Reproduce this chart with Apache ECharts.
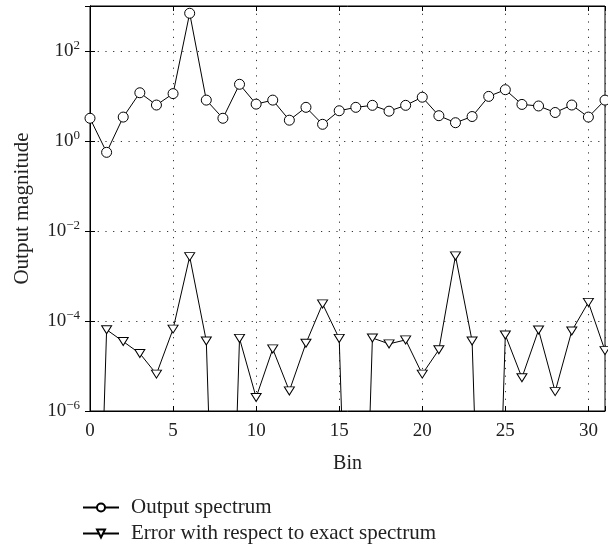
<!DOCTYPE html>
<html>
<head>
<meta charset="utf-8">
<script src="https://cdn.jsdelivr.net/npm/echarts@6/dist/echarts.min.js"></script>
<style>
  html, body { margin: 0; padding: 0; background: #fff; }
  #chart { width: 608px; height: 545px; }
</style>
</head>
<body>
<div id="chart"></div>
<script>
// bins 0..31
const bins = Array.from({ length: 32 }, (_, i) => i)

const outputSpectrum = [
  3.2, 0.56, 3.4, 11.8, 6.3, 11.3, 690, 8.1, 3.2, 18.2,
  6.6, 8.1, 2.9, 5.6, 2.35, 4.7, 5.6, 6.2, 4.6, 6.2,
  9.4, 3.65, 2.55, 3.5, 9.8, 13.8, 6.5, 6.0, 4.3, 6.3,
  3.4, 8.1
]

// near-zero bins (0, 8, 16, 24) fall far below the axis
const errorSpectrum = [
  1e-16, 6.4e-5, 3.5e-5, 1.9e-5, 6.6e-6, 6.6e-5, 2.7e-3, 3.6e-5, 1e-16, 4.1e-5,
  2.0e-6, 2.4e-5, 2.8e-6, 3.2e-5, 2.4e-4, 4.1e-5, 1e-16, 4.2e-5, 3.1e-5, 3.8e-5,
  6.6e-6, 2.3e-5, 2.8e-3, 3.6e-5, 1e-16, 4.9e-5, 5.5e-6, 6.3e-5, 2.7e-6, 6.0e-5,
  2.6e-4, 2.2e-5
]

const xTicks = [0, 5, 10, 15, 20, 25, 30]
const yTickExps = [-6, -4, -2, 0, 2]

const font = 'Liberation Serif'
const chart = echarts.init(document.getElementById('chart'))

const supLabel = v => {
  const e = Math.round(Math.log10(v))
  if (!yTickExps.includes(e)) return ''
  return '{b|10}{s|' + (e < 0 ? '\u2212' + (-e) : e) + '}'
}

const dotted = { color: '#333', width: 1, type: [1.2, 6.5] }

chart.setOption({
  animation: false,
  textStyle: { fontFamily: font },
  grid: { left: 90, right: 1, top: 6, bottom: 134, show: true, borderColor: '#000', borderWidth: 1 },
  legend: {
    orient: 'vertical',
    left: 77,
    top: 492,
    height: 80,
    itemGap: 5,
    itemWidth: 36,
    itemHeight: 10,
    textStyle: { fontFamily: font, fontSize: 21, lineHeight: 21, color: '#222', padding: [0, 0, 0, 7] },
    data: ['Output spectrum', 'Error with respect to exact spectrum']
  },
  xAxis: [
    {
      type: 'value', min: 0, max: 31, interval: 5,
      name: 'Bin', nameLocation: 'middle', nameGap: 43,
      nameTextStyle: { fontFamily: font, fontSize: 20, color: '#222' },
      axisLine: { lineStyle: { color: '#000' } },
      axisTick: { inside: true, length: 5, lineStyle: { color: '#000' } },
      axisLabel: {
        margin: 11, fontSize: 19, color: '#222', fontFamily: font,
        formatter: v => (xTicks.includes(v) ? String(v) : '')
      },
      splitLine: { show: true, lineStyle: dotted }
    },
    {
      type: 'value', min: 0, max: 31, interval: 5, position: 'top',
      axisLine: { lineStyle: { color: '#000' } },
      axisTick: { inside: true, length: 5, lineStyle: { color: '#000' } },
      axisLabel: { show: false },
      splitLine: { show: false }
    }
  ],
  yAxis: [
    {
      type: 'log', logBase: 10, min: 1e-6, max: 1e3, interval: 2,
      name: 'Output magnitude', nameLocation: 'middle', nameGap: 57,
      nameTextStyle: { fontFamily: font, fontSize: 21, color: '#222' },
      axisLine: { lineStyle: { color: '#000' } },
      axisTick: { inside: true, length: 5, lineStyle: { color: '#000' } },
      axisLabel: {
        margin: 10, color: '#222', formatter: supLabel,
        rich: {
          b: { fontFamily: font, fontSize: 19, color: '#222' },
          s: { fontFamily: font, fontSize: 13, color: '#222', padding: [0, 0, 10, 0] }
        }
      },
      minorTick: { show: false },
      splitLine: { show: true, lineStyle: dotted }
    },
    {
      type: 'log', logBase: 10, min: 1e-6, max: 1e3, interval: 2, position: 'right',
      axisLine: { lineStyle: { color: '#000' } },
      axisTick: { inside: true, length: 5, lineStyle: { color: '#000' } },
      axisLabel: { show: false },
      splitLine: { show: false }
    }
  ],
  series: [
    {
      name: 'Output spectrum',
      type: 'line',
      data: bins.map((b, i) => [b, outputSpectrum[i]]),
      symbol: 'circle',
      symbolSize: 10,
      itemStyle: { color: '#fff', borderColor: '#000', borderWidth: 1 },
      lineStyle: { color: '#000', width: 1 },
      clip: true
    },
    {
      name: 'Error with respect to exact spectrum',
      type: 'line',
      data: bins.map((b, i) => [b, errorSpectrum[i]]),
      symbol: 'path://M0,0 L10,0 L5,8 Z',
      symbolSize: [10, 8],
      itemStyle: { color: '#fff', borderColor: '#000', borderWidth: 1 },
      lineStyle: { color: '#000', width: 1 },
      clip: true
    }
  ]
})
</script>
</body>
</html>
